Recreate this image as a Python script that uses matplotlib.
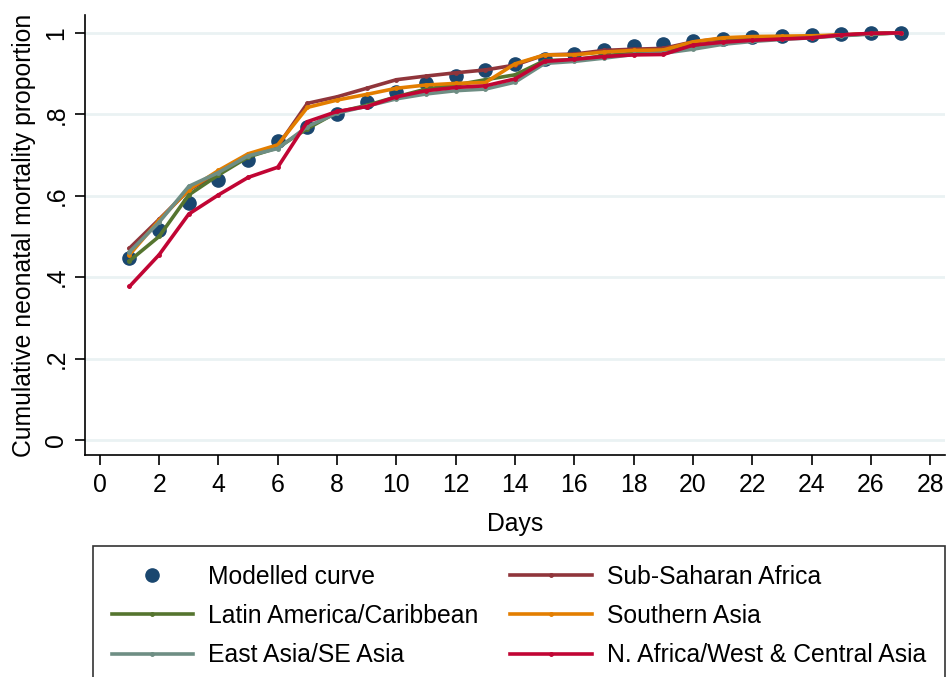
import matplotlib.pyplot as plt
import numpy as np

plt.rcParams['font.family'] = ['Liberation Sans', 'DejaVu Sans']
plt.rcParams['font.size'] = 17.8

days = np.arange(1, 28)

modelled = [.446, .517, .583, .639, .688, .734, .768, .800, .831, .855,
            .877, .893, .909, .924, .937, .948, .958, .967, .973, .980,
            .986, .989, .992, .995, .997, .999, 1.0]
ssa = [.471, .542, .614, .655, .700, .722, .827, .843, .864, .885,
       .894, .902, .909, .921, .946, .948, .957, .960, .962, .978,
       .986, .987, .989, .991, .995, .998, 1.0]
latam = [.440, .500, .602, .651, .695, .718, .765, .805, .822, .843,
         .862, .872, .885, .897, .932, .934, .944, .950, .955, .968,
         .978, .983, .987, .990, .994, .998, 1.0]
s_asia = [.455, .540, .615, .662, .703, .725, .817, .835, .849, .864,
          .872, .876, .878, .924, .946, .946, .953, .957, .958, .978,
          .988, .991, .992, .993, .995, .998, 1.0]
e_asia = [.462, .535, .623, .657, .698, .716, .770, .803, .820, .838,
          .850, .858, .862, .879, .925, .930, .938, .947, .950, .960,
          .972, .979, .984, .988, .993, .997, 1.0]
n_africa = [.377, .455, .555, .602, .645, .670, .782, .807, .819, .843,
            .858, .866, .870, .887, .930, .935, .942, .946, .947, .970,
            .977, .982, .985, .988, .995, .999, 1.0]

regions = [
    ('Sub-Saharan Africa', ssa, '#90353B'),
    ('Latin America/Caribbean', latam, '#55752F'),
    ('Southern Asia', s_asia, '#E37E00'),
    ('East Asia/SE Asia', e_asia, '#6E8E84'),
    ('N. Africa/West & Central Asia', n_africa, '#C10534'),
]

fig = plt.figure(figsize=(9.48, 6.77), dpi=100)
ax = fig.add_axes([85 / 948, 1 - 455 / 677, 860 / 948, 440 / 677])

dots, = ax.plot(days, modelled, 'o', color='#1A476F', markersize=9.5,
                label='Modelled curve', zorder=2)
lines = {}
for name, vals, col in regions:
    ln, = ax.plot(days, vals, '-', color=col, lw=2.6, marker='o',
                  markersize=2.5, label=name, zorder=3)
    lines[name] = ln

ax.set_xlim(-0.5, 28.5)
ax.set_ylim(-0.037, 1.044)
ax.set_xticks(np.arange(0, 29, 2))
ax.set_yticks([0, .2, .4, .6, .8, 1])
ax.set_yticklabels(['0', '.2', '.4', '.6', '.8', '1'], rotation=90, va='center')
ax.grid(axis='y', color='#EAF2F3', lw=2)
ax.set_axisbelow(True)
for s in ('top', 'right'):
    ax.spines[s].set_visible(False)
for s in ('left', 'bottom'):
    ax.spines[s].set_linewidth(1.2)
ax.tick_params(direction='out', length=7, width=1.2, pad=6)
ax.tick_params(axis='y', pad=5)

ax.set_xlabel('Days', labelpad=11)
ax.set_ylabel('Cumulative neonatal mortality proportion', labelpad=6)

# two-column legend filled row by row
order = [dots, lines['Latin America/Caribbean'], lines['East Asia/SE Asia'],
         lines['Sub-Saharan Africa'], lines['Southern Asia'],
         lines['N. Africa/West & Central Asia']]
leg = fig.legend(order, [h.get_label() for h in order], ncol=2,
                 loc='upper left', bbox_to_anchor=(93 / 948, 1 - 546 / 677),
                 frameon=True, fancybox=False, edgecolor='black',
                 borderpad=0.75, borderaxespad=0, handlelength=3.3,
                 handletextpad=0.6, columnspacing=1.3, labelspacing=0.62)
leg.get_frame().set_linewidth(1.2)

fig.savefig('out.png', dpi=100)
